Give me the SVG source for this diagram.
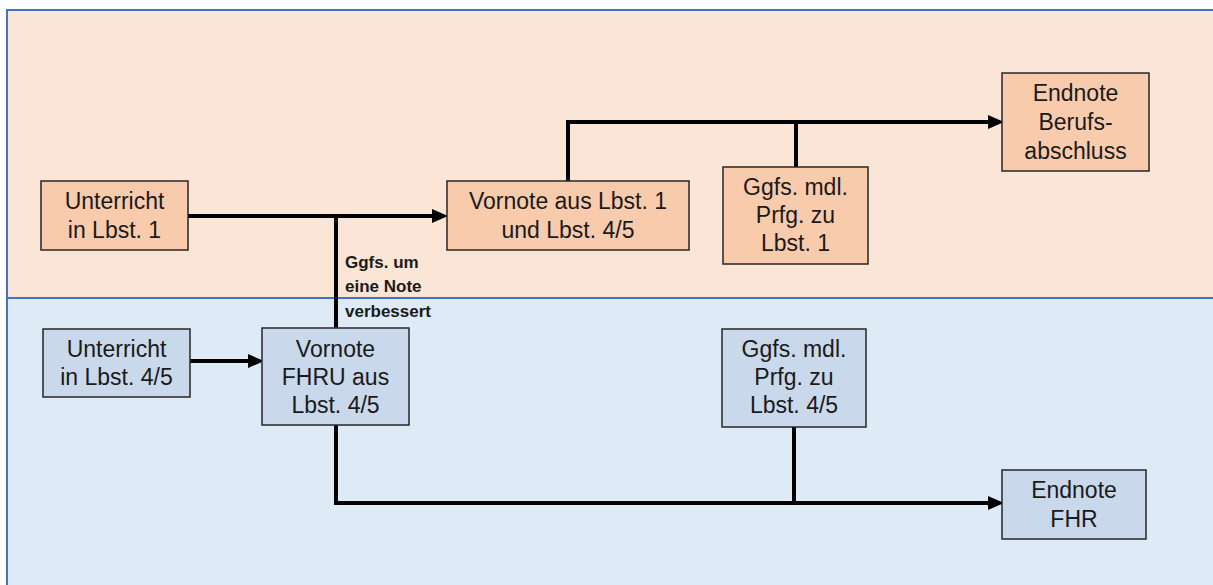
<svg xmlns="http://www.w3.org/2000/svg" width="1213" height="585" viewBox="0 0 1213 585">
<style>
.band{stroke:#4472C4;stroke-width:2}
.n1 rect{fill:#F8CBAD;stroke:#262626;stroke-width:1.5}
.n2 rect{fill:#C9D8EB;stroke:#262626;stroke-width:1.5}
.n1 text,.n2 text{font-family:"Liberation Sans",Arial,sans-serif;font-size:23px;fill:#1a1a1a;text-anchor:middle}
.lbl{font-family:"Liberation Sans",Arial,sans-serif;font-size:17px;font-weight:bold;fill:#1a1a1a}
.c{fill:none;stroke:#000;stroke-width:4}
</style>
<defs>
<marker id="ah" markerWidth="4" markerHeight="3.5" refX="0" refY="1.75" orient="auto" markerUnits="strokeWidth">
<path d="M0,0 L4,1.75 L0,3.5 Z" fill="#000"/>
</marker>
</defs>
<rect width="1213" height="585" fill="#ffffff"/>
<rect class="band" x="7" y="10" width="1220" height="288" fill="#FBE5D6"/>
<rect class="band" x="7" y="298" width="1220" height="300" fill="#DEEBF7"/>
<g id="connectors">
<path class="c" d="M188,216 H432" marker-end="url(#ah)"/>
<path class="c" d="M336,216 V328"/>
<path class="c" d="M568,181 V122 H988" marker-end="url(#ah)"/>
<path class="c" d="M796,167 V122"/>
<path class="c" d="M190,361 H248" marker-end="url(#ah)"/>
<path class="c" d="M336,425 V503 H988" marker-end="url(#ah)"/>
<path class="c" d="M794,427 V503"/>
</g>
<g id="label">
<text class="lbl" x="345" y="268">Ggfs. um</text>
<text class="lbl" x="345" y="292">eine Note</text>
<text class="lbl" x="345" y="317">verbessert</text>
</g>
<g id="n-unterricht1" class="n1">
<rect x="41" y="181" width="147" height="69"/>
<text x="114.5" y="209">Unterricht</text>
<text x="114.5" y="238">in Lbst. 1</text>
</g>
<g id="n-vornote" class="n1">
<rect x="447" y="181" width="242" height="69"/>
<text x="568" y="209">Vornote aus Lbst. 1</text>
<text x="568" y="238">und Lbst. 4/5</text>
</g>
<g id="n-pruefung1" class="n1">
<rect x="723" y="167" width="145" height="97"/>
<text x="795.5" y="195">Ggfs. mdl.</text>
<text x="795.5" y="223">Prfg. zu</text>
<text x="795.5" y="251">Lbst. 1</text>
</g>
<g id="n-endnote-beruf" class="n1">
<rect x="1002" y="73" width="147" height="98"/>
<text x="1075.5" y="101">Endnote</text>
<text x="1075.5" y="130">Berufs-</text>
<text x="1075.5" y="159">abschluss</text>
</g>
<g id="n-unterricht45" class="n2">
<rect x="43" y="329" width="147" height="68"/>
<text x="116.5" y="357">Unterricht</text>
<text x="116.5" y="385">in Lbst. 4/5</text>
</g>
<g id="n-vornote-fhru" class="n2">
<rect x="262" y="328" width="147" height="97"/>
<text x="335.5" y="357">Vornote</text>
<text x="335.5" y="385">FHRU aus</text>
<text x="335.5" y="413">Lbst. 4/5</text>
</g>
<g id="n-pruefung45" class="n2">
<rect x="722" y="329" width="144" height="98"/>
<text x="794" y="357">Ggfs. mdl.</text>
<text x="794" y="385">Prfg. zu</text>
<text x="794" y="413">Lbst. 4/5</text>
</g>
<g id="n-endnote-fhr" class="n2">
<rect x="1002" y="470" width="144" height="69"/>
<text x="1074" y="498">Endnote</text>
<text x="1074" y="527">FHR</text>
</g>
</svg>
